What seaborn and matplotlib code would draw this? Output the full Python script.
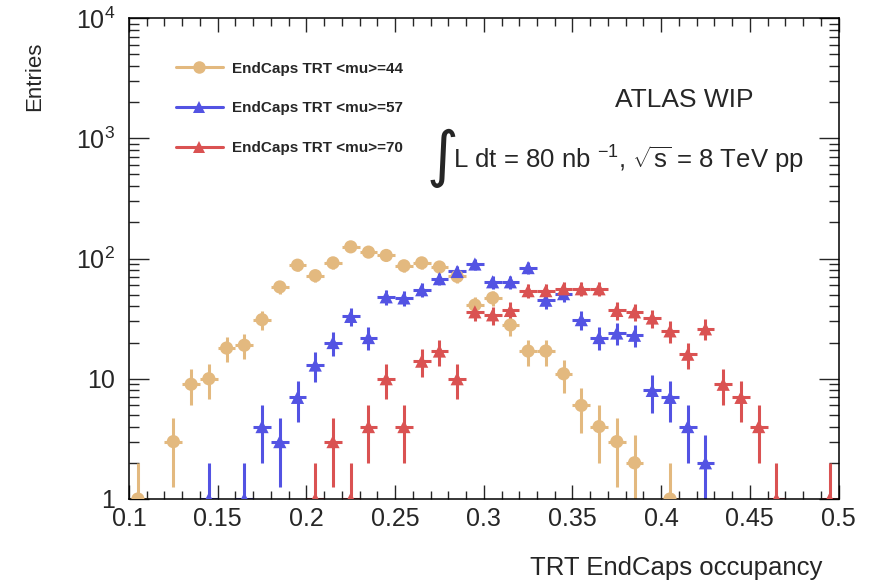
import numpy as np
import pandas as pd
import matplotlib
matplotlib.use("Agg")
import matplotlib.pyplot as plt
from matplotlib.ticker import MultipleLocator, LogLocator, FixedLocator, FixedFormatter, NullFormatter
from matplotlib.lines import Line2D
import seaborn as sns

# ---------------- data ----------------
bin_start = 0.10
bin_width = 0.01
n_bins = 40

mu44 = [1, 0, 3, 9, 10, 18, 19, 31, 58, 88, 72, 92, 125, 113, 106, 87, 92, 85, 71, 41,
        47, 28, 17, 17, 11, 6, 4, 3, 2, 0, 1, 0, 0, 0, 0, 0, 0, 0, 0, 0]
mu57 = [0, 0, 0, 0, 1, 0, 1, 4, 3, 7, 13, 20, 33, 22, 48, 47, 55, 68, 78, 90,
        64, 64, 84, 45, 51, 31, 22, 24, 23, 8, 7, 4, 2, 0, 0, 0, 0, 0, 0, 0]
mu70 = [0, 0, 0, 0, 0, 0, 0, 0, 0, 0, 1, 3, 1, 4, 10, 4, 14, 17, 10, 36,
        34, 37, 54, 54, 56, 56, 56, 37, 36, 32, 25, 16, 26, 9, 7, 4, 1, 0, 0, 1]

series_names = ["EndCaps TRT <mu>=44", "EndCaps TRT <mu>=57", "EndCaps TRT <mu>=70"]
series_vals = [mu44, mu57, mu70]
colors = ["#E3B97F", "#5353E3", "#DA5252"]
markers = ["o", "^", "^"]

x_ticks = [0.1, 0.15, 0.2, 0.25, 0.3, 0.35, 0.4, 0.45, 0.5]
x_tick_labels = ["0.1", "0.15", "0.2", "0.25", "0.3", "0.35", "0.4", "0.45", "0.5"]
y_ticks = [1, 10, 100, 1000, 10000]
y_tick_labels = ["1", "10", r"$\mathregular{10^{2}}$", r"$\mathregular{10^{3}}$", r"$\mathregular{10^{4}}$"]

centers = bin_start + bin_width * (np.arange(n_bins) + 0.5)

rows = []
for name, vals in zip(series_names, series_vals):
    for c, v in zip(centers, vals):
        if v > 0:
            rows.append({"occ": c, "entries": v, "series": name})
df = pd.DataFrame(rows)

# ---------------- style ----------------
sns.set_style("ticks")
plt.rcParams["font.family"] = ["Liberation Sans", "DejaVu Sans"]
plt.rcParams["mathtext.fontset"] = "custom"
plt.rcParams["mathtext.rm"] = "Liberation Sans"
plt.rcParams["mathtext.it"] = "Liberation Sans:italic"
plt.rcParams["mathtext.bf"] = "Liberation Sans:bold"

fig = plt.figure(figsize=(8.7, 5.83), dpi=100)
ax = fig.add_axes([0.1483, 0.1441, 0.8155, 0.8250])
ax.set_yscale("log", nonpositive="clip")

for name, col, mk in zip(series_names, colors, markers):
    sub = df[df["series"] == name]
    ax.errorbar(sub["occ"], sub["entries"], xerr=bin_width / 2,
                yerr=np.sqrt(sub["entries"]), fmt="none", ecolor=col,
                elinewidth=2.2, capsize=0, zorder=2)

sns.scatterplot(data=df, x="occ", y="entries", hue="series", style="series",
                palette=dict(zip(series_names, colors)),
                markers=dict(zip(series_names, markers)),
                s=90, edgecolor="none", linewidth=0, legend=False, ax=ax, zorder=3)

ax.set_xlim(0.1, 0.5)
ax.set_ylim(1, 10000)

ax.xaxis.set_major_locator(FixedLocator(x_ticks))
ax.xaxis.set_major_formatter(FixedFormatter(x_tick_labels))
ax.xaxis.set_minor_locator(MultipleLocator(0.01))
ax.yaxis.set_major_locator(FixedLocator(y_ticks))
ax.yaxis.set_major_formatter(FixedFormatter(y_tick_labels))
ax.yaxis.set_minor_locator(LogLocator(base=10, subs=np.arange(2, 10)))
ax.yaxis.set_minor_formatter(NullFormatter())

ax.tick_params(axis="x", which="major", direction="in", length=10, width=1.0,
               top=True, bottom=True, labelsize=18, pad=6)
ax.tick_params(axis="x", which="minor", direction="in", length=5.5, width=1.0,
               top=True, bottom=True)
ax.tick_params(axis="y", which="major", direction="in", length=14.5, width=1.0,
               left=True, right=True, labelsize=18, pad=10)
ax.tick_params(axis="y", which="minor", direction="in", length=7.5, width=1.0,
               left=True, right=True)
for sp in ax.spines.values():
    sp.set_linewidth(1.1)
    sp.set_color("black")

ax.set_xlabel("")
ax.set_ylabel("")
fig.text(822 / 870, 1 - 568 / 583, "TRT EndCaps occupancy", ha="right", va="center", fontsize=18.5)
fig.text(35 / 870, 1 - 42 / 583, "Entries", ha="center", va="top", rotation=90, fontsize=16)

# legend
handles = [Line2D([0], [0], color=c, marker=m, markersize=9, linewidth=2.2,
                  markeredgewidth=0) for c, m in zip(colors, markers)]
leg = ax.legend(handles, series_names, loc="upper left", bbox_to_anchor=(0.055, 0.925),
                frameon=False, handlelength=3.07, handletextpad=0.62, labelspacing=1.68,
                borderpad=0, prop={"size": 11, "weight": "bold"})

fig.text(684 / 870, 1 - 100 / 583, "ATLAS WIP", fontsize=19, ha="center", va="center")
fig.text(427 / 870, 1 - 158 / 583, "\u222b", family=["DejaVu Sans"], fontsize=44,
         ha="left", va="center")
fig.text(453 / 870, 1 - 160 / 583,
         r"L dt = 80 nb $^{-1}$, $\sqrt{\mathrm{s}}$ = 8 TeV pp",
         ha="left", va="center", fontsize=18.5)

fig.savefig("out.png", dpi=100, facecolor="white")
